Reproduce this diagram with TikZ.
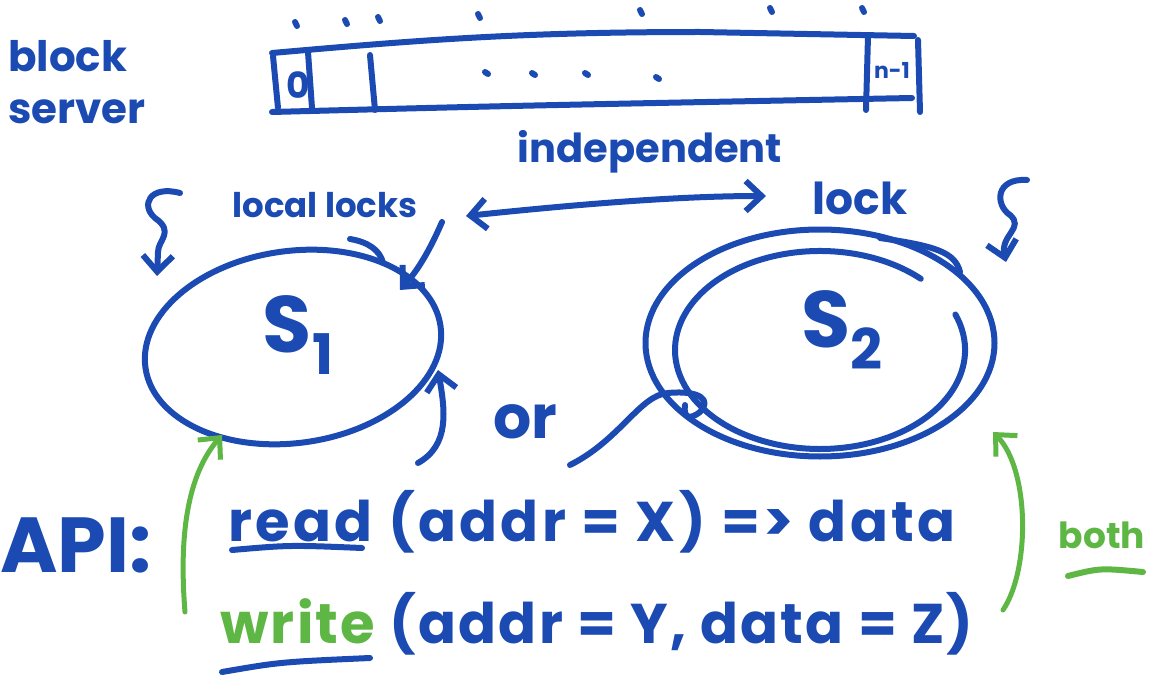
\documentclass[tikz,border=0pt]{standalone}
\usepackage{fontspec}
\setmainfont{Poppins}
\usetikzlibrary{shapes.geometric,arrows.meta}

\definecolor{ink}{RGB}{26,74,178}     % blue pen
\definecolor{mark}{RGB}{94,183,68}    % green pen

% server name: big S with a dropped index
\newcommand{\srvname}[1]{{\fontsize{80}{80}\selectfont S}\raisebox{-22pt}{\fontsize{56}{56}\selectfont #1}}

\begin{document}
\begin{tikzpicture}[x=1pt,y=-1pt,
    pen/.style={draw=ink,line width=6pt,line cap=round,line join=round},
    hl/.style={draw=mark,line width=5pt,line cap=round,line join=round},
    hand/.style={text=ink,inner sep=0pt,font=\bfseries\fontsize{#1}{#1}\selectfont},
    barb/.style={-{Straight Barb[length=16pt,width=30pt]}},
    dbarb/.style={{Straight Barb[length=16pt,width=30pt]}-{Straight Barb[length=16pt,width=30pt]}}]
 \useasboundingbox (0,0) rectangle (1159,679);

 % Label of the block store
 \node[hand=42,anchor=north west,align=left,font=\bfseries\fontsize{42}{52}\selectfont] (store) at (8,40) {block\\server};

 % Strip of blocks 0 .. n-1
 \draw[pen] (272,53) .. controls (420,40) and (520,32) .. (700,32) -- (914,36);
 \draw[pen] (272,112) .. controls (500,106) .. (912,98);
 \draw[pen] (273,56) -- (278,108);
 \draw[pen] (308,52) -- (312,108);
 \draw[pen] (370,55) -- (375,110);
 \draw[pen] (868,36) -- (866,110);
 \draw[pen] (918,40) -- (920,112);
 \node[hand=36] (blk0) at (298,85) {0};
 \node[hand=22] (blkn) at (892,70) {n-1};
 \foreach \x/\y in {295/22,345/20,378/17,478/14,640/10,770/8,862/8}
   \draw[pen,line width=6pt] (\x,\y) -- ++(2,4);
 \foreach \x/\y in {485/72,532/73,585/73,656/77}
   \draw[pen,line width=6pt] (\x,\y) -- ++(3,2);

 % Locks
 \node[hand=40] (indep) at (650,152) {independent};
 \node[hand=34] (loclk) at (325,205) {local locks};
 \node[hand=44] (lk) at (860,198) {lock};
 \coordinate (indepL) at (466,216);
 \coordinate (indepR) at (766,196);
 \draw[pen,dbarb] (indepL) .. controls (580,204) and (680,196) .. (indepR);

 % Servers
 \node[pen,ellipse,minimum width=298pt,minimum height=192pt,rotate=8] (s1) at (293,347) {};
 \node[text=ink,font=\bfseries] (s1lbl) at (298,335) {\srvname{1}};
 \node[pen,ellipse,minimum width=349pt,minimum height=227pt] (s2) at (820,343) {};
 \draw[pen] (955.4,314.5) arc[start angle=-21,end angle=314,x radius=145,y radius=99];
 \draw[pen] (880,238) .. controls (935,246) and (955,252) .. (960,272);
 \node[text=ink,font=\bfseries] (s2lbl) at (842,330) {\srvname{2}};
 \draw[pen] (350,239) .. controls (368,242) and (380,250) .. (383,263);

 % Requests reaching each server
 \coordinate (req1) at (180,193);
 \coordinate (req2) at (1027,180);
 \coordinate (lockin) at (442,222);
 \draw[pen,barb] (req1) .. controls (150,185) and (140,205) .. (155,218)
   .. controls (175,232) and (158,240) .. (158,252) -- (157,276);
 \draw[pen,barb] (req2) .. controls (995,178) and (995,205) .. (1010,215)
   .. controls (1025,228) and (1000,235) .. (1006,262);
 \draw[pen,barb] (lockin) .. controls (432,245) and (420,268) .. (400,290);

 % Either server may answer
 \node[hand=60] (either) at (525,422) {or};
 \coordinate (orS1) at (418,463);
 \coordinate (orS2) at (570,465);
 \draw[pen,barb] (orS1) .. controls (450,445) and (445,410) .. (438,370);
 \draw[pen] (orS2) .. controls (620,440) and (640,395) .. (668,393)
   .. controls (700,390) and (712,400) .. (700,412) .. controls (690,420) and (683,418) .. (685,405);

 % Interface
 \node[hand=78,anchor=west] (api) at (0,545) {API:};
 \node[hand=56,anchor=west] (rd) at (228,522) {\addfontfeature{LetterSpace=6}read (addr = X) => data};
 \node[hand=56,anchor=west] (wr) at (220,624) {\addfontfeature{LetterSpace=4}\textcolor{mark}{write} (addr = Y, data = Z)};
 \draw[pen] (232,550) .. controls (290,545) .. (362,548);
 \draw[pen] (222,672) .. controls (280,662) .. (370,658);
 \node[hand=36,text=mark] (both) at (1102,535) {both};
 \draw[hl,line width=6pt] (1068,576) .. controls (1100,568) .. (1143,572);
 \coordinate (apiL) at (185,612);
 \coordinate (apiR) at (1003,610);
 \draw[hl,barb] (apiL) .. controls (180,550) and (183,480) .. (222,435);
 \draw[hl,barb] (apiR) .. controls (1030,570) and (1030,470) .. (993,432);
\end{tikzpicture}
\end{document}
